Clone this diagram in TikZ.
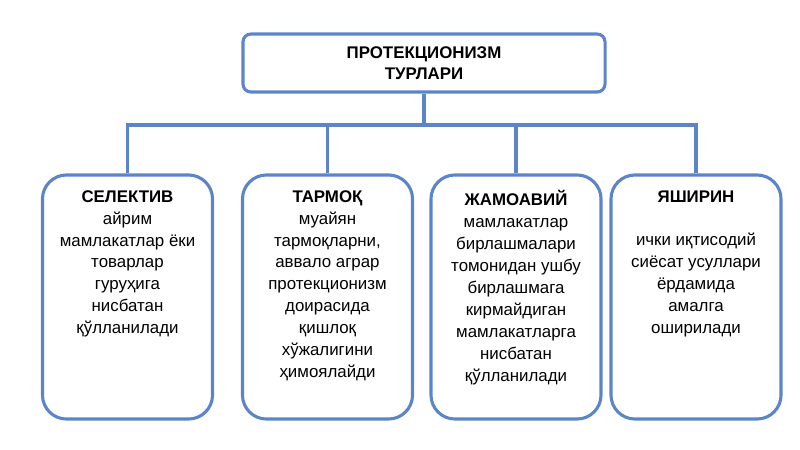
\documentclass[tikz,border=0pt]{standalone}
\usepackage{fontspec}
\setmainfont{Liberation Sans}
\definecolor{boxblue}{HTML}{5B85C8}
\tikzset{
  typebox/.style={draw=boxblue, line width=2.2pt, rounded corners=0.6cm,
    minimum width=4.25cm, minimum height=6.1cm, fill=white},
  headbox/.style={draw=boxblue, line width=2.2pt, rounded corners=0.2cm,
    minimum width=9.05cm, minimum height=1.45cm, fill=white, align=center,
    font=\bfseries\fontsize{12}{15}\selectfont},
  typetext/.style={anchor=north, align=center, font=\fontsize{12}{15.6}\selectfont},
  link/.style={draw=boxblue, line width=2.2pt}
}
\begin{document}
\begin{tikzpicture}[x=0.025cm,y=-0.025cm]
  \useasboundingbox (0,0) rectangle (800,449);
  \node[headbox] (head) at (424,63) {ПРОТЕКЦИОНИЗМ\\ТУРЛАРИ};
  \node[typebox] (sel) at (127.5,297) {};
  \node[typebox] (tar) at (327.5,297) {};
  \node[typebox] (jam) at (516,297) {};
  \node[typebox] (yash) at (696,297) {};
  \coordinate (bus) at (424,125);
  \draw[link] (head.south) -- (bus);
  \draw[link] (sel.north) |- (bus) -| (yash.north);
  \draw[link] (tar.north) -- (tar.north |- bus);
  \draw[link] (jam.north) -- (jam.north |- bus);
  \node[typetext] (seltext) at ([yshift=-0.3cm]sel.north)
    {\textbf{СЕЛЕКТИВ}\\айрим\\мамлакатлар ёки\\товарлар\\гуруҳига\\нисбатан\\қўлланилади};
  \node[typetext] (tartext) at ([yshift=-0.3cm]tar.north)
    {\textbf{ТАРМОҚ}\\муайян\\тармоқларни,\\аввало аграр\\протекционизм\\доирасида\\қишлоқ\\хўжалигини\\ҳимоялайди};
  \node[typetext] (jamtext) at ([yshift=-0.3cm]jam.north)
    {\textbf{ЖАМОАВИЙ}\\мамлакатлар\\бирлашмалари\\томонидан ушбу\\бирлашмага\\кирмайдиган\\мамлакатларга\\нисбатан\\қўлланилади};
  \node[typetext] (yashtext) at ([yshift=-0.3cm]yash.north)
    {\textbf{ЯШИРИН}\\[15.6pt]ички иқтисодий\\сиёсат усуллари\\ёрдамида\\амалга\\оширилади};
\end{tikzpicture}
\end{document}
